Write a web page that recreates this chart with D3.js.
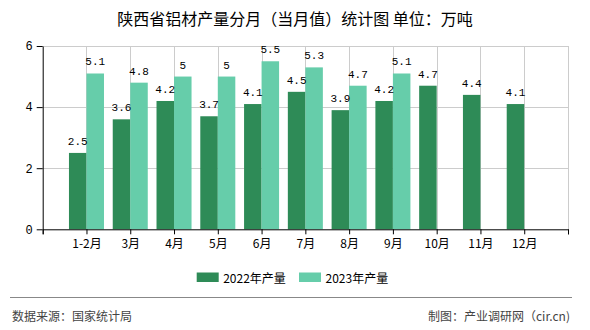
<!DOCTYPE html>
<html><head><meta charset="utf-8">
<script src="https://cdn.jsdelivr.net/npm/d3@7"></script>
<style>body{margin:0;background:#fff}svg{display:block}</style>
</head><body>
<svg id="c" width="590" height="330"></svg>
<script>
const categories = ["1-2月","3月","4月","5月","6月","7月","8月","9月","10月","11月","12月"];
const values2022 = [2.5,3.6,4.2,3.7,4.1,4.5,3.9,4.2,4.7,4.4,4.1];
const values2023 = [5.1,4.8,5,5,5.5,5.3,4.7,5.1];
const yTicks = [0,2,4,6];
const seriesNames = ["2022年产量","2023年产量"];
const colors = ["#2e8b57","#66cdaa"];

(function(){
const svg = d3.select("#c");
const pL = 42.7, pR = 568, pT = 46, pB = 229.3;
const slots = ["__s"].concat(categories, ["__e"]);
const x = d3.scalePoint().domain(slots).range([pL, pR]);
const step = x.step();
const bw = step * 0.4;
const y = d3.scaleLinear().domain([0, 6]).range([pB, pT]);
const labelFont = "'Liberation Mono', 'DejaVu Sans Mono', monospace";
const cjk = "'Noto Sans CJK SC', sans-serif";

// title
svg.append("text").attr("x", 295).attr("y", 17.5).attr("text-anchor","middle")
  .attr("dominant-baseline","central").attr("font-family", cjk).attr("font-size", 16)
  .attr("font-weight", 400).attr("fill","#000").text("陕西省铝材产量分月（当月值）统计图 单位：万吨");

// grid
svg.append("g").selectAll("line").data(yTicks.filter(d=>d>0)).join("line")
  .attr("x1", pL).attr("x2", pR).attr("y1", d=>Math.round(y(d))+0.5).attr("y2", d=>Math.round(y(d))+0.5)
  .attr("stroke","#ccc");
svg.append("g").selectAll("line").data(slots.slice(1)).join("line")
  .attr("x1", d=>Math.round(x(d))+0.5).attr("x2", d=>Math.round(x(d))+0.5)
  .attr("y1", pT).attr("y2", pB).attr("stroke","#ccc");

// bars
const g = svg.append("g");
g.selectAll("rect.a").data(values2022).join("rect").attr("class","a")
  .attr("x",(d,i)=>x(categories[i]) - bw).attr("width", bw)
  .attr("y", d=>y(d)).attr("height", d=>y(0)-y(d)).attr("fill", colors[0]);
g.selectAll("rect.b").data(values2023).join("rect").attr("class","b")
  .attr("x",(d,i)=>x(categories[i])).attr("width", bw)
  .attr("y", d=>y(d)).attr("height", d=>y(0)-y(d)).attr("fill", colors[1]);
g.selectAll("text.a").data(values2022).join("text").attr("class","a")
  .attr("x",(d,i)=>x(categories[i]) - bw/2).attr("y", d=>y(d)-8)
  .attr("text-anchor","middle").attr("font-family", labelFont).attr("font-size", 11)
  .attr("fill","#000").text(d=>d);
g.selectAll("text.b").data(values2023).join("text").attr("class","b")
  .attr("x",(d,i)=>x(categories[i]) + bw/2).attr("y", d=>y(d)-8)
  .attr("text-anchor","middle").attr("font-family", labelFont).attr("font-size", 11)
  .attr("fill","#000").text(d=>d);

// axes
const xAxis = d3.axisBottom(x).tickSize(5).tickFormat(d=>d.startsWith("__")?"":d);
const xg = svg.append("g").attr("transform",`translate(0,${pB})`).call(xAxis);
xg.select(".domain").attr("stroke","#000");
xg.selectAll(".tick line").attr("stroke","#000");
xg.selectAll(".tick text").attr("font-family", cjk).attr("font-size", 12).attr("fill","#000").attr("dy","0.9em");

const yAxis = d3.axisLeft(y).tickValues(yTicks).tickFormat(d3.format("d")).tickSize(6).tickSizeOuter(0);
const yg = svg.append("g").attr("transform",`translate(${pL},0)`).call(yAxis);
yg.select(".domain").attr("stroke","#000");
yg.selectAll(".tick line").attr("stroke","#000");
yg.selectAll(".tick text").attr("font-family", labelFont).attr("font-size", 12).attr("fill","#000").attr("x",-10);

// legend
const legX = [196.7, 299];
seriesNames.forEach((n,i)=>{
  svg.append("rect").attr("x", legX[i]).attr("y", 272.5).attr("width", 22).attr("height", 9.5).attr("fill", colors[i]);
  svg.append("text").attr("x", legX[i]+26.5).attr("y", 277).attr("dominant-baseline","central")
    .attr("font-family", cjk).attr("font-size", 12).attr("fill","#000").text(n);
});

// footer
svg.append("line").attr("x1",10).attr("x2",572).attr("y1",297.5).attr("y2",297.5).attr("stroke","#888").attr("stroke-width",1);
svg.append("text").attr("x",12).attr("y",315.5).attr("dominant-baseline","central")
  .attr("font-family", cjk).attr("font-size",12).attr("fill","#444").text("数据来源：国家统计局");
svg.append("text").attr("x",570).attr("y",315.5).attr("text-anchor","end").attr("dominant-baseline","central")
  .attr("font-family", cjk).attr("font-size",12).attr("fill","#444").text("制图：产业调研网（cir.cn)");
})();
</script>
</body></html>
